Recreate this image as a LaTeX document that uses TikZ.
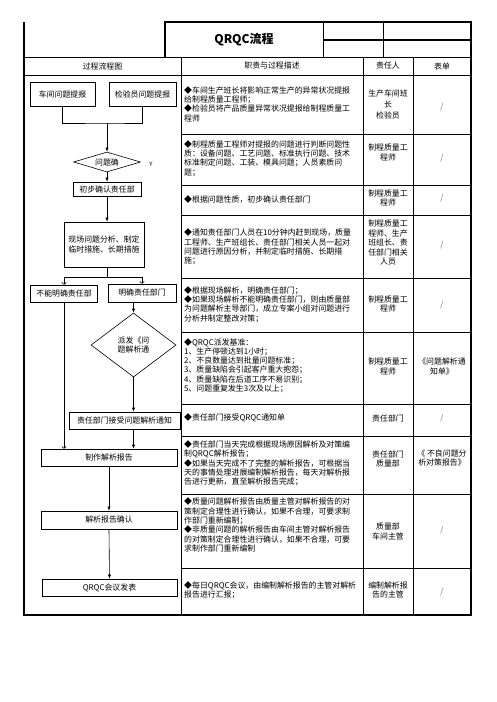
\documentclass[tikz,border=0pt]{standalone}
\usepackage{fontspec}
\setmainfont{Noto Sans CJK SC}
\usetikzlibrary{shapes.geometric,arrows.meta}

\begin{document}
\begin{tikzpicture}[x=1pt,y=-1pt,
    box/.style={draw,line width=0.6pt,inner sep=0pt,align=center,font=\fontsize{7.9}{9.3}\selectfont},
    choice/.style={draw,line width=0.6pt,diamond,inner sep=0pt,align=center,font=\fontsize{7.9}{9.3}\selectfont},
    desc/.style={anchor=west,align=left,inner sep=0pt,font=\fontsize{7.9}{9.3}\selectfont},
    who/.style={align=center,inner sep=0pt,font=\fontsize{7.9}{9.5}\selectfont},
    flow/.style={line width=0.6pt,-{Latex[length=4pt,width=3.2pt]}},
    flowopen/.style={line width=0.6pt,-{To[length=2.5pt,width=5pt]}}]
    % Define column edges
    \def\xa{24}
    \def\xb{181}
    \def\xc{363}
    \def\xd{413}
    \def\xe{471}
    % Define colours
    \definecolor{slashgray}{RGB}{110,110,110}

    \useasboundingbox (0,0) rectangle (496,702);

    % 1. Table frame
    \draw[line width=1.2pt] (\xa,22) -- (\xa,615) -- (\xe,615) -- (\xe,22) -- (165,22) -- (165,57.5);
    \draw[line width=1.4pt] (\xa,57.5) -- (\xe,57.5);
    \draw[line width=0.8pt] (323,22) -- (323,57.5);
    \draw[line width=0.8pt] (383,22) -- (383,57.5);
    \draw[line width=1.2pt] (323,40) -- (\xe,40);
    \draw[line width=0.8pt] (\xa,75) -- (\xe,75);
    \foreach \x in {\xb,\xc,\xd} {
        \draw[line width=0.8pt] (\x,57.5) -- (\x,615);
    }
    \foreach \y in {134,185,215,278,332,404,436,494,568} {
        \draw[line width=0.8pt] (\xb,\y) -- (\xe,\y);
    }

    % 2. Title and header
    \node (title) at (244,40) {\fontsize{12}{14}\selectfont\bfseries QRQC流程};
    \node[who] (h1) at (102.5,66) {过程流程图};
    \node[who] (h2) at (272,66) {职责与过程描述};
    \node[who] (h3) at (388,66) {责任人};
    \node[who] (h4) at (442,66) {表单};

    % 3. Flow chart
    \node[box,minimum width=65pt,minimum height=24pt] (n1) at (62.5,94) {车间问题提报};
    \node[box,minimum width=67pt,minimum height=24pt] (n2) at (142.5,94) {检验员问题提报};
    \coordinate (j1) at (107,123);
    \node[choice,aspect=3.35,minimum width=67pt,minimum height=20pt] (d1) at (107,162) {问题确};
    \node[inner sep=0pt,font=\fontsize{6}{6}\selectfont] (yes) at (151,164) {Y};
    \node[box,minimum width=68pt,minimum height=14pt] (n3) at (107,189) {初步确认责任部};
    \node[box,minimum width=80pt,minimum height=45pt] (n4) at (104,244.5) {现场问题分析、制定\\临时措施、长期措施};
    \coordinate (j2) at (107,277);
    \node[box,minimum width=67pt,minimum height=17pt] (n5) at (64,293.5) {不能明确责任部};
    \node[box,minimum width=68pt,minimum height=18pt] (n6) at (142,293) {明确责任部门};
    \node[choice,aspect=1.33,minimum width=85pt,minimum height=64pt] (d2) at (133.5,345) {派发《问\\题解析通};
    \node[box,minimum width=111pt,minimum height=17pt] (n7) at (124.5,420.5) {责任部门接受问题解析通知};
    \node[box,minimum width=136pt,minimum height=17pt] (n8) at (109,457.5) {制作解析报告};
    \node[box,minimum width=136pt,minimum height=18pt] (n9) at (109,520) {解析报告确认};
    \node[box,minimum width=135pt,minimum height=17pt] (n10) at (109.5,587.5) {QRQC会议发表};

    \draw[line width=0.6pt] (n1.south) |- (j1) -| (n2.south);
    \draw[flow] (j1) -- (d1.north);
    \draw[flow] (d1.south) -- (n3.north);
    \draw[flow] (n3.south) -- (n3.south |- n4.north);
    \draw[line width=0.6pt] (n3.south |- n4.south) -- (j2);
    \draw[flowopen] (j2) -| (n5.north);
    \draw[flowopen] (j2) -| (n6.north);
    \draw[flow] (d2.north |- n6.south) -- (d2.north);
    \draw[flow] (d2.south) -- (d2.south |- n7.north);
    \draw[flow] (d2.south |- n7.south) -- (d2.south |- n8.north);
    \draw[flowopen] (n5.south) -- (n5.south |- n8.north);
    \draw[flow] (n8.south) -- (n9.north);
    \draw[flow] (n9.south) -- (n10.north);

    % 4. Duties and process description
    \node[desc] (t1) at (184,104) {◆车间生产班长将影响正常生产的异常状况提报\\给制程质量工程师；\\◆检验员将产品质量异常状况提报给制程质量工\\程师};
    \node[desc] (t2) at (184,158.5) {◆制程质量工程师对提报的问题进行判断问题性\\质：设备问题、工艺问题、标准执行问题、技术\\标准制定问题、工装、模具问题；人员素质问\\题；};
    \node[desc] (t3) at (184,199) {◆根据问题性质，初步确认责任部门};
    \node[desc] (t4) at (184,247) {◆通知责任部门人员在10分钟内赶到现场，质量\\工程师、生产班组长、责任部门相关人员一起对\\问题进行原因分析，并制定临时措施、长期措\\施；};
    \node[desc] (t5) at (184,304.5) {◆根据现场解析，明确责任部门；\\◆如果现场解析不能明确责任部门，则由质量部\\为问题解析主导部门，成立专案小组对问题进行\\分析并制定整改对策；};
    \node[desc] (t6) at (184,365.5) {◆QRQC派发基准：\\1、生产停顿达到1小时；\\2、不良数量达到批量问题标准；\\3、质量缺陷会引起客户重大抱怨；\\4、质量缺陷在后道工序不易识别；\\5、问题重复发生3次及以上；};
    \node[desc] (t7) at (184,418) {◆责任部门接受QRQC通知单};
    \node[desc] (t8) at (184,463.5) {◆责任部门当天完成根据现场原因解析及对策编\\制QRQC解析报告；\\◆如果当天完成不了完整的解析报告，可根据当\\天的事情处理进展编制解析报告，每天对解析报\\告进行更新，直至解析报告完成；};
    \node[desc] (t9) at (184,525) {◆质量问题解析报告由质量主管对解析报告的对\\策制定合理性进行确认，如果不合理，可要求制\\作部门重新编制；\\◆非质量问题的解析报告由车间主管对解析报告\\的对策制定合理性进行确认，如果不合理，可要\\求制作部门重新编制};
    \node[desc] (t10) at (184,590) {◆每日QRQC会议，由编制解析报告的主管对解析\\报告进行汇报；};

    % 5. Person in charge
    \node[who,font=\fontsize{7.9}{11}\selectfont] (r1) at (388,104) {生产车间班\\长\\检验员};
    \node[who] (r2) at (388,152.5) {制程质量工\\程师};
    \node[who] (r3) at (388,198) {制程质量工\\程师};
    \node[who] (r4) at (388,243) {制程质量工\\程师、生产\\班组长、责\\任部门相关\\人员};
    \node[who] (r5) at (388,304) {制程质量工\\程师};
    \node[who] (r6) at (388,366.5) {制程质量工\\程师};
    \node[who] (r7) at (388,418) {责任部门};
    \node[who] (r8) at (388,459) {责任部门\\质量部};
    \node[who] (r9) at (388,531.5) {质量部\\车间主管};
    \node[who] (r10) at (388,590) {编制解析报\\告的主管};

    % 6. Forms
    \foreach \y [count=\i] in {107,158,198,245,305} {
        \node[who,text=slashgray] (f\i) at (442,\y) {/};
    }
    \node[who] (f6) at (442,366.5) {《问题解析通\\知单》};
    \node[who,text=slashgray] (f7) at (442,418) {/};
    \node[who] (f8) at (442,458) {《 不良问题分\\析对策报告》};
    \node[who,text=slashgray] (f9) at (442,530) {/};
    \node[who,text=slashgray] (f10) at (442,592) {/};
\end{tikzpicture}
\end{document}
